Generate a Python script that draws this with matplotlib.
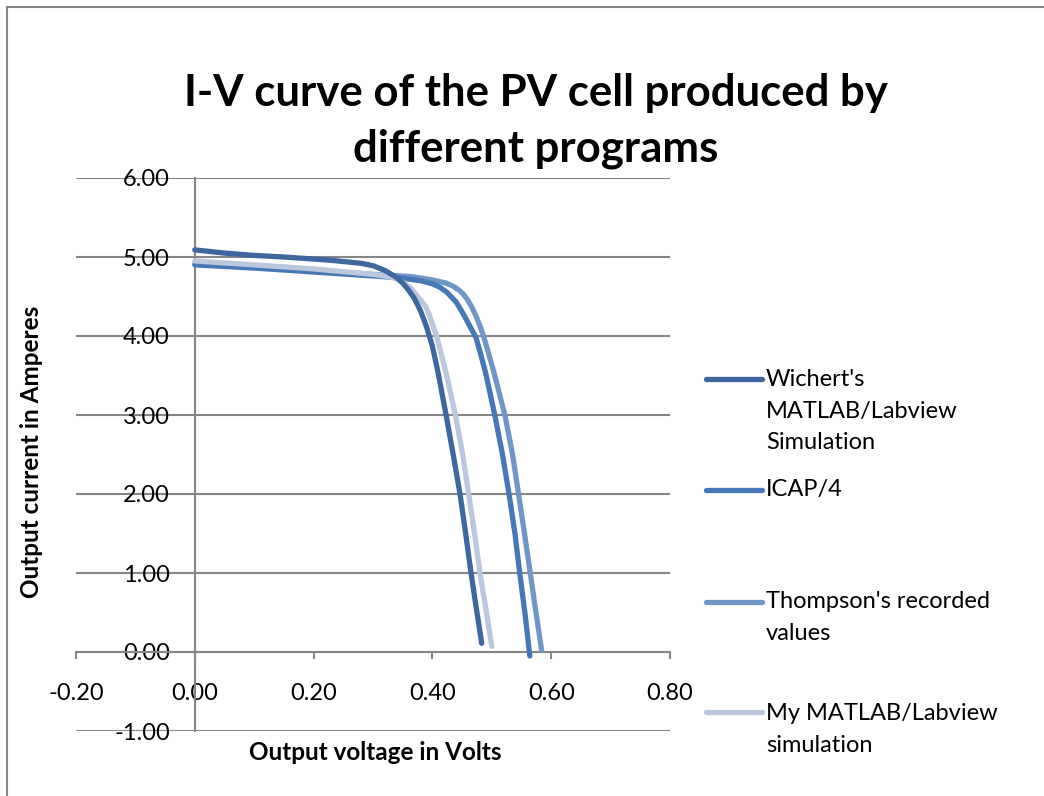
import numpy as np
import matplotlib
matplotlib.use("Agg")
import matplotlib.pyplot as plt
from matplotlib.lines import Line2D
from matplotlib.patches import Rectangle

plt.rcParams['font.family'] = ['Lato', 'DejaVu Sans']

# (volts, amperes)
wichert_v = [0.000, 0.05, 0.10, 0.15, 0.227, 0.28, 0.30, 0.32, 0.34, 0.35, 0.36, 0.37,
             0.38, 0.39, 0.40, 0.41, 0.423, 0.435, 0.4465, 0.456, 0.465, 0.474, 0.483]
wichert_i = [5.09, 5.05, 5.02, 5.00, 4.96, 4.92, 4.89, 4.83, 4.74, 4.67, 4.58, 4.47,
             4.32, 4.12, 3.87, 3.52, 3.00, 2.50, 2.00, 1.50, 1.00, 0.55, 0.11]

icap_v = [0.000, 0.10, 0.20, 0.30, 0.339, 0.36, 0.38, 0.40, 0.412, 0.425, 0.44, 0.452,
          0.462, 0.4734, 0.481, 0.49, 0.505, 0.518, 0.529, 0.539, 0.547, 0.556, 0.564]
icap_i = [4.90, 4.86, 4.81, 4.76, 4.74, 4.72, 4.70, 4.66, 4.62, 4.55, 4.43, 4.28,
          4.14, 3.98, 3.78, 3.52, 3.00, 2.50, 2.00, 1.50, 1.00, 0.48, -0.05]

thompson_v = [0.000, 0.10, 0.20, 0.30, 0.367, 0.40, 0.423, 0.435, 0.445, 0.452, 0.459, 0.466,
              0.473, 0.48, 0.486, 0.495, 0.505, 0.522, 0.535, 0.545, 0.555, 0.5647, 0.574,
              0.5837]
thompson_i = [4.91, 4.87, 4.83, 4.78, 4.75, 4.71, 4.67, 4.63, 4.58, 4.53, 4.46, 4.37,
              4.26, 4.13, 4.00, 3.77, 3.50, 3.00, 2.50, 2.00, 1.50, 1.00, 0.52, 0.03]

mine_v = [0.000, 0.10, 0.20, 0.227, 0.30, 0.328, 0.34, 0.35, 0.36, 0.367, 0.375, 0.383,
          0.389, 0.395, 0.401, 0.407, 0.424, 0.4387, 0.451, 0.461, 0.471, 0.480, 0.490, 0.500]
mine_i = [4.95, 4.90, 4.85, 4.83, 4.78, 4.75, 4.72, 4.68, 4.63, 4.58, 4.50, 4.43,
          4.37, 4.26, 4.13, 4.00, 3.50, 3.00, 2.50, 2.00, 1.50, 1.00, 0.55, 0.07]

series_names = ["Wichert's\nMATLAB/Labview\nSimulation", "ICAP/4",
                "Thompson's recorded\nvalues", "My MATLAB/Labview\nsimulation"]
series_colors = ['#3D679E', '#4677B7', '#7096C8', '#BAC7DD']

x_ticks = [-0.2, 0.0, 0.2, 0.4, 0.6, 0.8]
y_ticks = [-1, 0, 1, 2, 3, 4, 5, 6]

W, H = 1044, 796
fig = plt.figure(figsize=(W / 100, H / 100), dpi=100)
ax = fig.add_axes([76 / W, 1 - 731 / H, (670 - 76) / W, (731 - 178) / H])

grey = '#868686'
lw_curve = 3.8
data = [(wichert_v, wichert_i), (icap_v, icap_i), (thompson_v, thompson_i), (mine_v, mine_i)]
for k in [2, 1, 3, 0]:
    v, i = data[k]
    ax.plot(v, i, color=series_colors[k], lw=lw_curve, solid_capstyle='round',
            solid_joinstyle='round', zorder=3)

ax.set_xlim(-0.2, 0.8)
ax.set_ylim(-1, 6)
ax.set_xticks(x_ticks)
ax.set_yticks(y_ticks)
ax.set_xticklabels(['%.2f' % t for t in x_ticks])
ax.set_yticklabels(['%.2f' % t for t in y_ticks])
ax.grid(axis='y', color=grey, lw=1.5, zorder=1)
ax.set_axisbelow(True)

for s in ['top', 'right']:
    ax.spines[s].set_visible(False)
ax.spines['left'].set_position(('data', 0))
ax.spines['bottom'].set_position(('data', 0))
for s in ['left', 'bottom']:
    ax.spines[s].set_color(grey)
    ax.spines[s].set_linewidth(1.5)
ax.tick_params(axis='x', direction='out', length=5, width=1.5, color=grey,
               pad=17, labelsize=17)
ax.tick_params(axis='y', length=0, pad=18, labelsize=17)

fig.text(536 / W, 1 - 121 / H, "I-V curve of the PV cell produced by\ndifferent programs",
         ha='center', va='center', fontsize=31.5, fontweight='bold', linespacing=1.45)
fig.text(375 / W, 1 - 752 / H, "Output voltage in Volts", ha='center', va='center',
         fontsize=17.5, fontweight='bold')
fig.text(32 / W, 1 - 452 / H, "Output current in Amperes", ha='center', va='center',
         rotation=90, fontsize=17.5, fontweight='bold')

# legend, hand placed like the Excel one
handle_y = [379, 490, 602, 712]
text_y = [411, 490, 617.5, 729.5]
for name, col, hy, ty in zip(series_names, series_colors, handle_y, text_y):
    fig.add_artist(Line2D([706 / W, 762 / W], [1 - hy / H, 1 - hy / H], color=col,
                          lw=lw_curve, solid_capstyle='round'))
    fig.text(766 / W, 1 - ty / H, name, ha='left', va='center', fontsize=17,
             linespacing=1.6)

fig.add_artist(Rectangle((7 / W, -0.1), 1.2, 1.1 - 7 / H, fill=False,
                         edgecolor=grey, lw=1.5, transform=fig.transFigure))

fig.savefig('out.png', dpi=100)
